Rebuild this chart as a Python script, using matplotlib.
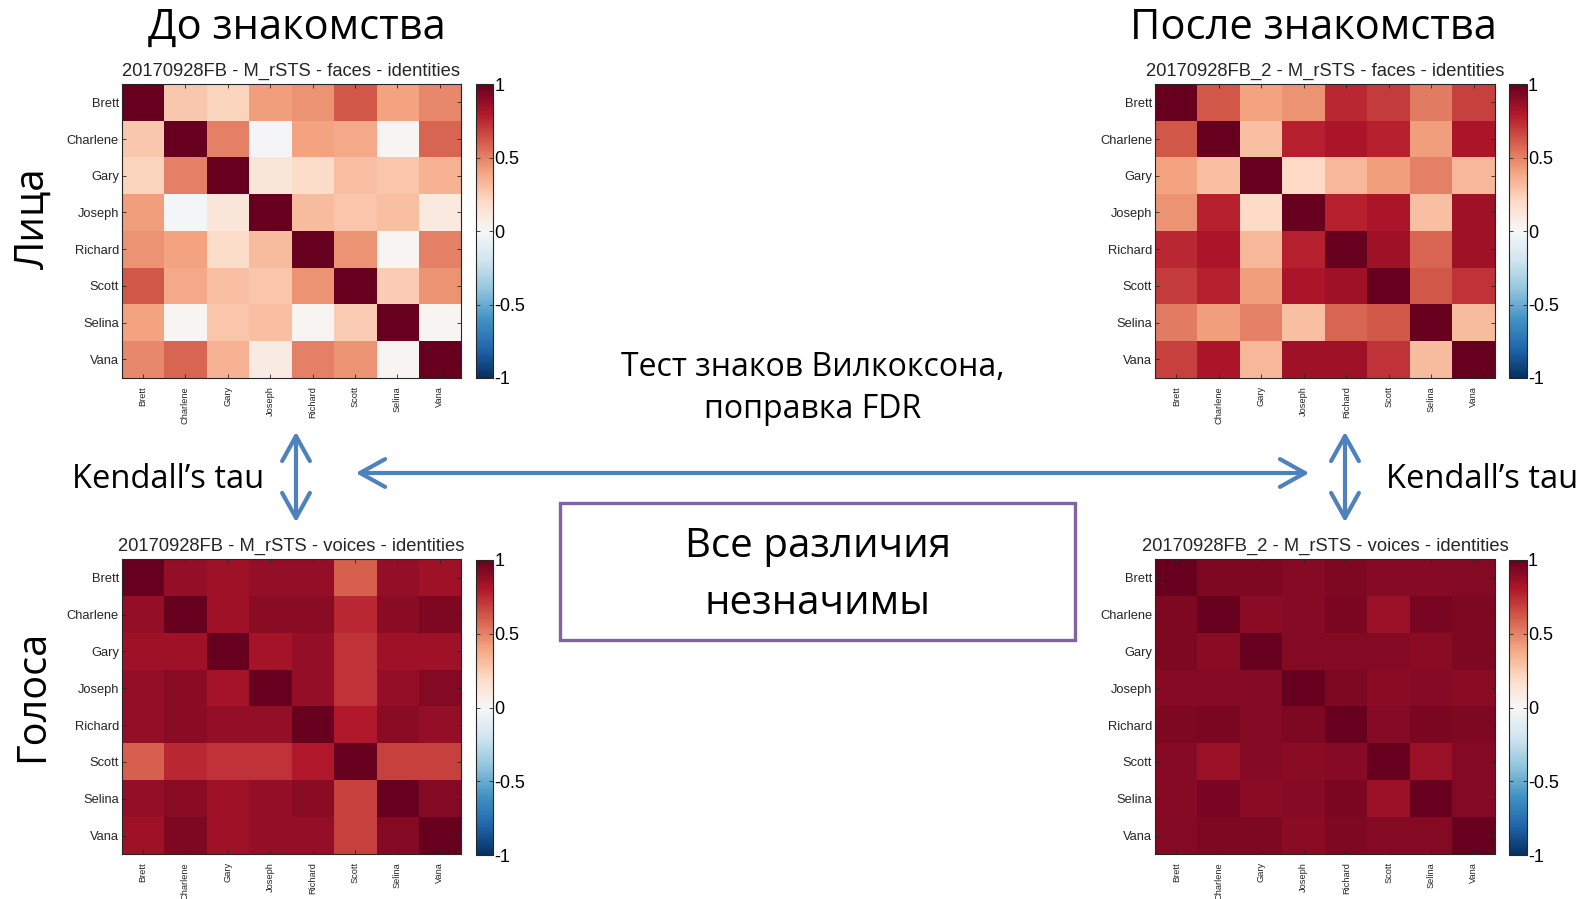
import numpy as np
import matplotlib.pyplot as plt
from matplotlib.patches import FancyArrowPatch, Rectangle

# identities in the RSA matrices
names = ['Brett', 'Charlene', 'Gary', 'Joseph', 'Richard', 'Scott', 'Selina', 'Vana']

# Kendall's tau between identity patterns, session 1 (before) and session 2 (after)
faces_before = [
    [1.00, 0.27, 0.22, 0.42, 0.45, 0.62, 0.40, 0.48],
    [0.27, 1.00, 0.50, -0.02, 0.40, 0.38, 0.02, 0.58],
    [0.22, 0.50, 1.00, 0.12, 0.18, 0.30, 0.28, 0.35],
    [0.42, -0.02, 0.12, 1.00, 0.32, 0.28, 0.30, 0.10],
    [0.45, 0.40, 0.18, 0.32, 1.00, 0.45, 0.02, 0.50],
    [0.62, 0.38, 0.30, 0.28, 0.45, 1.00, 0.25, 0.45],
    [0.40, 0.02, 0.28, 0.30, 0.02, 0.25, 1.00, 0.02],
    [0.48, 0.58, 0.35, 0.08, 0.50, 0.45, 0.02, 1.00],
]
faces_after = [
    [1.00, 0.62, 0.40, 0.45, 0.75, 0.70, 0.52, 0.68],
    [0.62, 1.00, 0.30, 0.78, 0.82, 0.78, 0.42, 0.82],
    [0.40, 0.30, 1.00, 0.20, 0.33, 0.42, 0.50, 0.33],
    [0.45, 0.78, 0.20, 1.00, 0.78, 0.82, 0.30, 0.85],
    [0.75, 0.82, 0.33, 0.78, 1.00, 0.85, 0.58, 0.85],
    [0.70, 0.78, 0.42, 0.82, 0.85, 1.00, 0.62, 0.72],
    [0.52, 0.42, 0.50, 0.30, 0.58, 0.62, 1.00, 0.32],
    [0.68, 0.82, 0.33, 0.85, 0.85, 0.72, 0.32, 1.00],
]
voices_before = [
    [1.00, 0.88, 0.85, 0.88, 0.88, 0.60, 0.88, 0.85],
    [0.88, 1.00, 0.85, 0.90, 0.90, 0.75, 0.90, 0.93],
    [0.85, 0.85, 1.00, 0.83, 0.88, 0.72, 0.85, 0.85],
    [0.88, 0.90, 0.83, 1.00, 0.88, 0.72, 0.88, 0.92],
    [0.88, 0.90, 0.88, 0.88, 1.00, 0.80, 0.90, 0.88],
    [0.60, 0.75, 0.72, 0.72, 0.80, 1.00, 0.68, 0.68],
    [0.88, 0.90, 0.85, 0.88, 0.90, 0.68, 1.00, 0.92],
    [0.85, 0.93, 0.85, 0.88, 0.88, 0.68, 0.92, 1.00],
]
voices_after = [
    [1.00, 0.93, 0.93, 0.91, 0.93, 0.91, 0.91, 0.92],
    [0.93, 1.00, 0.90, 0.91, 0.94, 0.86, 0.95, 0.93],
    [0.93, 0.90, 1.00, 0.92, 0.92, 0.92, 0.90, 0.93],
    [0.91, 0.91, 0.92, 1.00, 0.93, 0.90, 0.91, 0.90],
    [0.93, 0.94, 0.92, 0.93, 1.00, 0.91, 0.94, 0.93],
    [0.91, 0.86, 0.92, 0.90, 0.91, 1.00, 0.86, 0.92],
    [0.91, 0.95, 0.90, 0.91, 0.94, 0.86, 1.00, 0.92],
    [0.92, 0.93, 0.93, 0.90, 0.93, 0.92, 0.92, 1.00],
]

cbar_ticks = [-1, -0.5, 0, 0.5, 1]
cbar_labels = ['-1', '-0.5', '0', '0.5', '1']

W, H = 1587, 899
fig = plt.figure(figsize=(W / 100, H / 100), dpi=100)

def rect(x0, y0, x1, y1):
    # pixel box (top-left origin) -> figure fraction
    return [x0 / W, 1 - y1 / H, (x1 - x0) / W, (y1 - y0) / H]

def fx(x):
    return x / W

def fy(y):
    return 1 - y / H

HELV = ['Liberation Sans', 'DejaVu Sans']
SLIDE = ['Open Sans', 'DejaVu Sans']
TXT = '#262626'

def rsa_panel(mat, title, heat_box, cbar_box):
    ax = fig.add_axes(rect(*heat_box))
    im = ax.imshow(np.array(mat), cmap='RdBu_r', vmin=-1, vmax=1,
                   aspect='auto', interpolation='nearest')
    ax.set_xticks(range(len(names)))
    ax.set_yticks(range(len(names)))
    ax.set_xticklabels(names, rotation=90, fontsize=6.7, family=HELV, color=TXT)
    ax.set_yticklabels(names, fontsize=9.3, family=HELV, color=TXT)
    ax.tick_params(direction='in', length=3, width=0.6, top=True, right=True,
                   color=TXT)
    ax.tick_params(axis='x', pad=6)
    ax.tick_params(axis='y', pad=2)
    for s in ax.spines.values():
        s.set_color(TXT)
        s.set_linewidth(0.8)
    ax.set_title(title, fontsize=13.2, family=HELV, color=TXT, pad=6)

    cax = fig.add_axes(rect(*cbar_box))
    cb = fig.colorbar(im, cax=cax, ticks=cbar_ticks)
    cb.set_ticklabels(cbar_labels)
    cb.outline.set_edgecolor(TXT)
    cb.outline.set_linewidth(0.8)
    cax.tick_params(direction='in', length=3, width=0.6, left=True, right=True,
                    labelsize=13, pad=1, color=TXT, labelcolor='black')
    for lab in cax.get_yticklabels():
        lab.set_family(HELV)
    return ax

rsa_panel(faces_before, '20170928FB - M_rSTS - faces - identities',
          (121.7, 84, 461, 377.7), (475.7, 84.3, 493.3, 378))
rsa_panel(faces_after, '20170928FB_2 - M_rSTS - faces - identities',
          (1155, 84, 1495, 377.7), (1509, 84.3, 1526.7, 378))
rsa_panel(voices_before, '20170928FB - M_rSTS - voices - identities',
          (121.7, 559.3, 461, 854), (475.7, 560, 493.3, 855))
rsa_panel(voices_after, '20170928FB_2 - M_rSTS - voices - identities',
          (1155, 559.3, 1495, 854), (1509, 560, 1526.7, 855))

# headings
fig.text(fx(297), fy(28), 'До знакомства', fontsize=30, family=SLIDE,
         ha='center', va='center')
fig.text(fx(1313), fy(28), 'После знакомства', fontsize=30, family=SLIDE,
         ha='center', va='center')
fig.text(fx(33), fy(218), 'Лица', fontsize=29, family=SLIDE, rotation=90,
         ha='center', va='center')
fig.text(fx(33), fy(696), 'Голоса', fontsize=28.5, family=SLIDE, rotation=90,
         ha='center', va='center')

fig.text(fx(813), fy(367), 'Тест знаков Вилкоксона,', fontsize=23,
         family=SLIDE, ha='center', va='center')
fig.text(fx(813), fy(410), 'поправка FDR', fontsize=23, family=SLIDE,
         ha='center', va='center')
fig.text(fx(168), fy(480), 'Kendall’s tau', fontsize=23.5, family=SLIDE,
         ha='center', va='center')
fig.text(fx(1482), fy(480), 'Kendall’s tau', fontsize=23.5, family=SLIDE,
         ha='center', va='center')

# result box
fig.patches.append(Rectangle((fx(560), fy(640)), fx(1075) - fx(560),
                             fy(503) - fy(640), transform=fig.transFigure,
                             fill=False, edgecolor='#8064a2', lw=2.4))
fig.text(fx(818), fy(547), 'Все различия', fontsize=29, family=SLIDE,
         ha='center', va='center')
fig.text(fx(818), fy(604), 'незначимы', fontsize=29, family=SLIDE,
         ha='center', va='center')

# arrows
BLUE = '#4f81bd'
def arrow(p0, p1):
    a = FancyArrowPatch((fx(p0[0]), fy(p0[1])), (fx(p1[0]), fy(p1[1])),
                        transform=fig.transFigure,
                        arrowstyle='<->,head_length=0.9,head_width=0.5',
                        mutation_scale=20, lw=3, color=BLUE,
                        capstyle='round', joinstyle='round')
    fig.patches.append(a)

arrow((353, 473), (1312, 473))
arrow((296, 429), (296, 525))
arrow((1345, 429), (1345, 525))

fig.savefig('out.png', dpi=100, facecolor='white')
